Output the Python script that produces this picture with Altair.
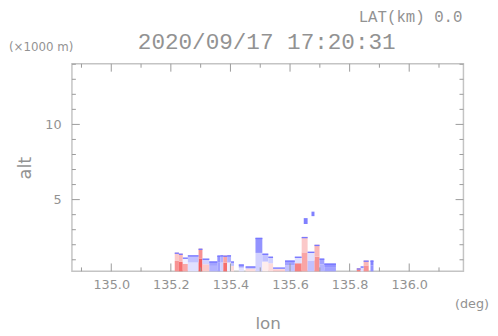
import altair as alt
import pandas as pd

# Echo columns (lon in deg, alt top in km, Doppler-like values)
lon_left = [135.213, 135.227, 135.240, 135.257, 135.293, 135.306, 135.329, 135.356, 135.366, 135.376,
            135.389, 135.402, 135.428, 135.451, 135.484, 135.507, 135.527, 135.543, 135.583, 135.616,
            135.639, 135.659, 135.682, 135.699, 135.715, 135.824, 135.837, 135.847, 135.870]
lon_right = [135.227, 135.240, 135.257, 135.293, 135.306, 135.329, 135.356, 135.366, 135.376, 135.389,
             135.402, 135.412, 135.445, 135.484, 135.507, 135.527, 135.543, 135.583, 135.616, 135.639,
             135.659, 135.682, 135.699, 135.715, 135.754, 135.837, 135.847, 135.864, 135.880]
alt_top = [1.48, 1.41, 1.15, 1.30, 1.74, 1.08, 0.89, 1.28, 1.30, 1.28,
           1.30, 0.89, 0.69, 0.56, 2.46, 1.41, 1.21, 0.49, 0.95, 1.21,
           2.52, 1.54, 2.00, 1.08, 0.75, 0.43, 0.56, 0.95, 0.95]
val_low = [-0.6, -0.8, -0.5, 0.2, -0.9, -0.3, 0.5, 0.6, 0.3, -0.8,
           0.1, -0.2, 0.2, -0.2, 0.3, -0.1, -0.2, -0.3, 0.4, -0.7,
           -0.5, 0.4, -0.6, 0.5, 0.6, -0.7, 0.2, -0.6, 0.7]
val_high = [-0.3, -0.4, 0.1, 0.4, -0.6, 0.3, 0.6, 0.7, 0.5, -0.5,
            0.5, 0.4, 0.6, 0.5, 0.7, 0.4, 0.3, 0.1, 0.6, 0.2,
            -0.3, 0.2, -0.4, 0.6, 0.7, -0.6, 0.3, -0.4, 0.8]

# isolated echo fragments aloft
frag_lon_l = [135.646, 135.672]
frag_lon_r = [135.659, 135.682]
frag_alt_lo = [3.38, 3.90]
frag_alt_hi = [3.77, 4.20]

x_major = [135.0, 135.2, 135.4, 135.6, 135.8, 136.0]
x_minor = [134.9, 135.1, 135.3, 135.5, 135.7, 135.9, 136.1]
y_major = [5, 10]
y_minor = [1, 2, 3, 4, 6, 7, 8, 9, 11, 12, 13, 14]

XDOM = [134.868, 136.182]
YDOM = [0.23, 14.03]
W, H = 398, 211
GRAY = "#929292"
TICK = "#9a9a9a"

base = YDOM[0]
cols = pd.DataFrame({"l": lon_left, "r": lon_right, "top": alt_top, "vlo": val_low, "vhi": val_high})
cols["base"] = base
cols["mid"] = base + (cols["top"] - base) * 0.55
cols["cap"] = cols["top"] - 0.09
frags = pd.DataFrame({"l": frag_lon_l, "r": frag_lon_r, "lo": frag_alt_lo, "hi": frag_alt_hi})

xs = alt.Scale(domain=XDOM, nice=False, zero=False)
ys = alt.Scale(domain=YDOM, nice=False, zero=False)
cs = alt.Scale(domain=[-1, 0, 1], range=["#f24a4a", "#ffffff", "#6464ff"], interpolate="rgb")

xaxis = alt.Axis(values=x_major, format=".1f", title="lon", ticks=False, domain=False, grid=False,
                 labelFont="DejaVu Sans", labelFontSize=13, labelColor=GRAY, labelPadding=7,
                 titleFont="DejaVu Sans", titleFontSize=17, titleFontWeight="normal", titleColor=GRAY,
                 titlePadding=25)
yaxis = alt.Axis(values=y_major, format="d", title="alt", ticks=False, domain=False, grid=False,
                 labelFont="DejaVu Sans", labelFontSize=13, labelColor=GRAY, labelPadding=11,
                 titleFont="DejaVu Sans", titleFontSize=18, titleFontWeight="normal", titleColor=GRAY,
                 titlePadding=11)


def X(field):
    return alt.X(field, scale=xs, axis=xaxis)


def Y(field):
    return alt.Y(field, scale=ys, axis=yaxis)


lower = alt.Chart(cols).mark_rect().encode(
    x=X("l:Q"), x2="r:Q", y=Y("base:Q"), y2="mid:Q",
    color=alt.Color("vlo:Q", scale=cs, legend=None))
upper = alt.Chart(cols).mark_rect().encode(
    x=X("l:Q"), x2="r:Q", y=Y("mid:Q"), y2="top:Q",
    color=alt.Color("vhi:Q", scale=cs, legend=None))
cap = alt.Chart(cols).mark_rect(color="#7878ff").encode(
    x=X("l:Q"), x2="r:Q", y=Y("cap:Q"), y2="top:Q")
frag = alt.Chart(frags).mark_rect(color="#8080ff").encode(
    x=X("l:Q"), x2="r:Q", y=Y("lo:Q"), y2="hi:Q")


def xticks(vals, length):
    d = pd.DataFrame({"v": vals})
    b = alt.Chart(d).mark_rule(color=TICK, strokeWidth=1).encode(
        x=X("v:Q"), y=alt.value(H), y2=alt.value(H - length))
    t = alt.Chart(d).mark_rule(color=TICK, strokeWidth=1).encode(
        x=X("v:Q"), y=alt.value(0), y2=alt.value(length))
    return [b, t]


def yticks(vals, length):
    d = pd.DataFrame({"v": vals})
    lft = alt.Chart(d).mark_rule(color=TICK, strokeWidth=1).encode(
        y=Y("v:Q"), x=alt.value(0), x2=alt.value(length))
    rgt = alt.Chart(d).mark_rule(color=TICK, strokeWidth=1).encode(
        y=Y("v:Q"), x=alt.value(W), x2=alt.value(W - length))
    return [lft, rgt]


def label(text, x, y, size, align, font="DejaVu Sans"):
    return alt.Chart(pd.DataFrame({"t": [text]})).mark_text(
        font=font, fontSize=size, color=GRAY, align=align, baseline="middle").encode(
        text="t:N", x=alt.value(x), y=alt.value(y))


layers = [lower, upper, cap, frag]
layers += xticks(x_major, 8) + xticks(x_minor, 4) + yticks(y_major, 8) + yticks(y_minor, 4)
layers += [
    label("2020/09/17 17:20:31", 198, -22, 23, "center", "Liberation Mono"),
    label("LAT(km) 0.0", 397, -47, 16, "right", "Liberation Mono"),
    label("(×1000 m)", -64, -17, 12, "left"),
    label("(deg)", 424, 244, 13, "right"),
]

chart = alt.layer(*layers).properties(
    width=W, height=H,
    autosize=alt.AutoSizeParams(type="none"),
    padding={"left": 65, "top": 54, "right": 27, "bottom": 63},
    background="white",
).configure_view(stroke="#c4c4c4", strokeWidth=1.5)

chart.save("out.html", embed_options={"renderer": "svg", "actions": False})
